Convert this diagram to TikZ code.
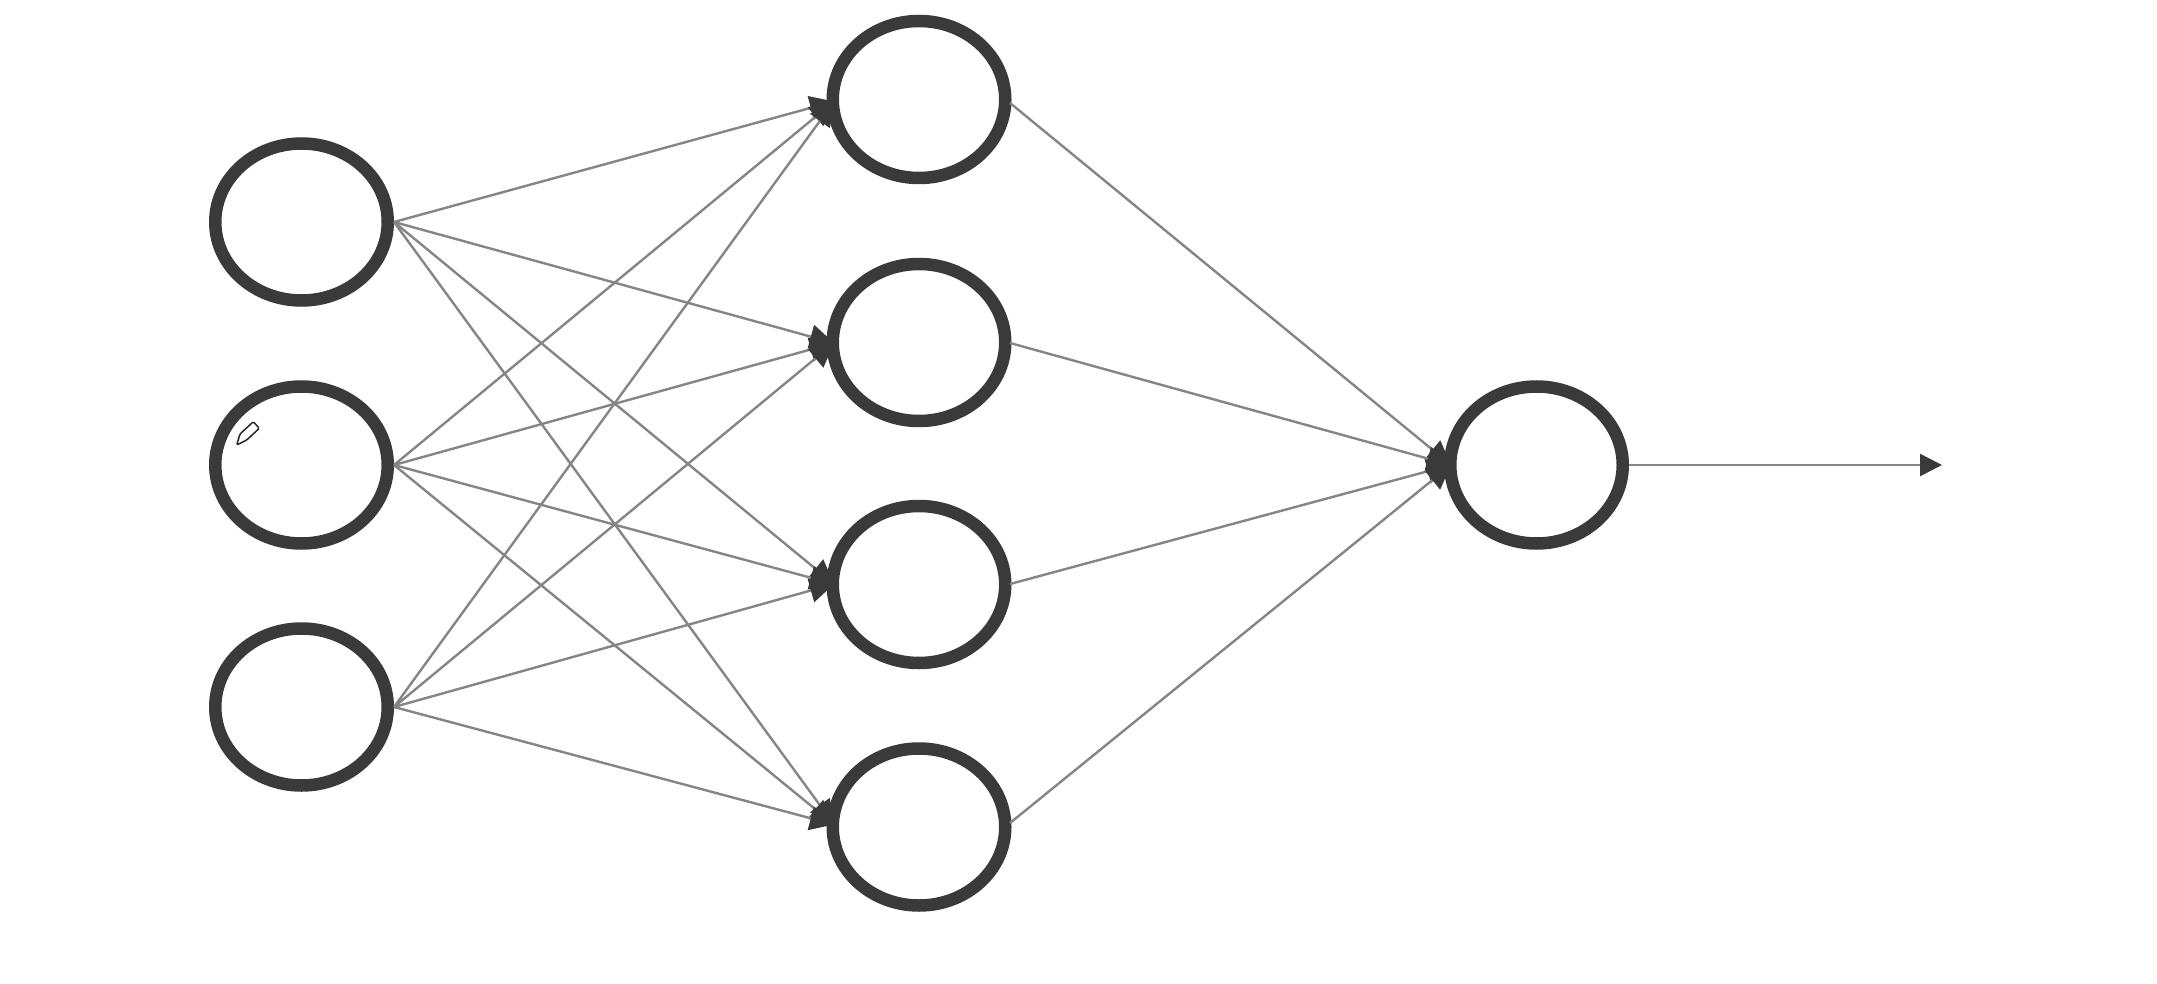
\documentclass[tikz,border=0pt]{standalone}
\usetikzlibrary{shapes.geometric,arrows.meta}
\definecolor{ringc}{HTML}{3A3A3A}
\definecolor{linkc}{HTML}{858585}
\tikzset{
  neuron/.style={ellipse,draw=ringc,line width=6.25pt,minimum width=86.25pt,minimum height=78.5pt,inner sep=0pt},
  linkline/.style={draw=linkc,line width=1.2pt,
    -{Triangle[length=12pt,width=12pt,color=ringc]}},
  pencil/.style={draw=black!85,line width=0.75pt,fill=white,line join=round,rounded corners=0.6pt}
}
\begin{document}
\begin{tikzpicture}[x=0.5pt,y=-0.5pt]
\useasboundingbox (0,0) rectangle (2157,984);
\node[neuron] (i1) at (301.5,222) {};
\node[neuron] (i2) at (301.5,465) {};
\node[neuron] (i3) at (301.5,707) {};
\node[neuron] (h1) at (919,99.5) {};
\node[neuron] (h2) at (919,342.5) {};
\node[neuron] (h3) at (919,584.5) {};
\node[neuron] (h4) at (919,827) {};
\node[neuron] (o1) at (1536.5,465) {};
\coordinate (h1in) at (834,101.5);
\coordinate (h2in) at (834,343);
\coordinate (h3in) at (834,584);
\coordinate (h4in) at (834,824.5);
\coordinate (h1out) at (1010,103);
\coordinate (h2out) at (1010,343);
\coordinate (h3out) at (1010,584);
\coordinate (h4out) at (1010,823);
\coordinate (o1in) at (1451,465);
\coordinate (out) at (1942,465);
\foreach \a in {i1,i2,i3}
  \foreach \b in {h1,h2,h3,h4}
    \draw[linkline] (\a.east) -- (\b in);
\foreach \b in {h1,h2,h3,h4}
  \draw[linkline] (\b out) -- (o1in);
\draw[linkline,-{Triangle[length=11pt,width=11pt,color=ringc]}] (o1.east) -- (out);
% pencil cursor
\draw[pencil] (236.7,445) -- (240,434) -- (253.3,421.7) -- (259.3,428.3) -- (246.7,440) -- cycle;
\end{tikzpicture}
\end{document}
